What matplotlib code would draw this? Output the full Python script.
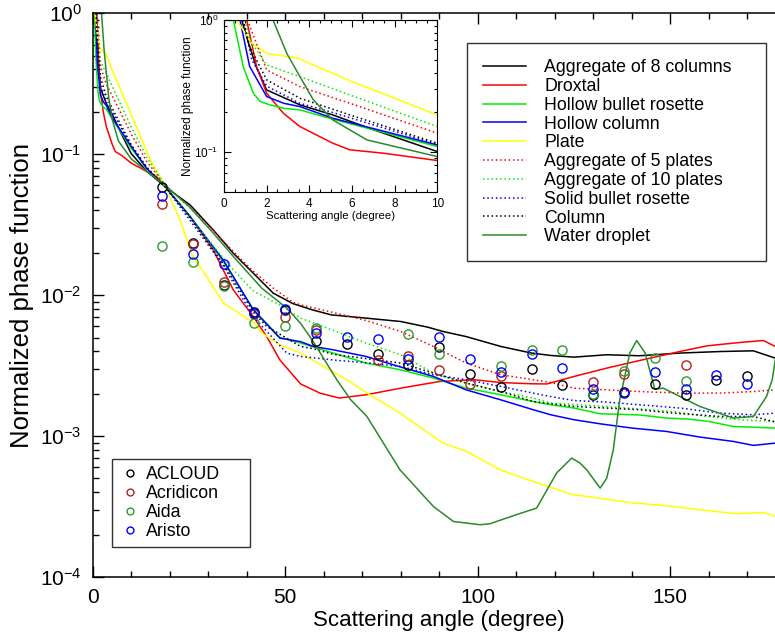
import numpy as np
import matplotlib
matplotlib.use("Agg")
import matplotlib.pyplot as plt
from matplotlib.ticker import MultipleLocator, LogLocator, NullFormatter

plt.rcParams['font.family'] = ['Liberation Sans', 'DejaVu Sans']
plt.rcParams['mathtext.fontset'] = 'custom'
plt.rcParams['mathtext.rm'] = 'Liberation Sans'

# ---------------- data (angle in degree, log10 of normalized phase function) ----------------
agg8_ang = [0.83, 1.2, 1.5, 2, 3.56, 5.1, 7, 10, 14, 18.8, 25.3, 31.3, 36.5, 41.7, 46.9, 52, 57, 62, 71, 80, 87, 91, 97, 106, 114, 119, 125, 133.5, 142, 152.5, 163, 171.6, 177.3]
agg8_log = [0, -0.2, -0.35, -0.529, -0.642, -0.718, -0.83, -0.995, -1.12, -1.23, -1.36, -1.537, -1.702, -1.844, -1.986, -2.06, -2.104, -2.14, -2.163, -2.187, -2.227, -2.258, -2.294, -2.364, -2.411, -2.428, -2.44, -2.423, -2.43, -2.411, -2.4, -2.395, -2.447]

drox_ang = [1.06, 1.53, 2, 2.78, 3.56, 5.1, 5.9, 7.5, 10, 16.6, 18.8, 25.3, 31.3, 36.5, 41.7, 45.2, 48.6, 54, 59, 64, 71, 80, 90, 99, 106, 114, 118, 125, 133.5, 142, 152.5, 159.5, 168, 174.2, 177.3]
drox_log = [0, -0.353, -0.554, -0.705, -0.806, -0.932, -0.982, -1.008, -1.063, -1.16, -1.23, -1.443, -1.679, -1.962, -2.152, -2.294, -2.459, -2.63, -2.695, -2.73, -2.707, -2.66, -2.613, -2.6, -2.62, -2.629, -2.63, -2.577, -2.518, -2.464, -2.4, -2.36, -2.336, -2.322, -2.364]

hbr_ang = [0.44, 0.9, 1.375, 1.7, 2.15, 2.8, 3.56, 5.1, 10, 14, 18.8, 25.3, 33.9, 41.7, 48.6, 54, 62.5, 71, 80, 88.5, 97, 106, 114.4, 119, 125, 131.8, 142, 149, 155, 160, 166.4, 177.3]
hbr_log = [0, -0.353, -0.554, -0.617, -0.642, -0.668, -0.68, -0.75, -0.957, -1.1, -1.23, -1.44, -1.76, -2.1, -2.3, -2.34, -2.411, -2.482, -2.53, -2.589, -2.66, -2.707, -2.755, -2.778, -2.801, -2.842, -2.85, -2.872, -2.88, -2.896, -2.932, -2.943]

hcol_ang = [0.75, 1.2, 2, 2.8, 3.56, 5.1, 10, 14, 18.8, 25.3, 33.9, 41.7, 48.6, 54, 57.3, 62.5, 71, 80, 88.5, 97, 106, 114.4, 119, 125, 131.8, 140, 149, 157.7, 166.4, 171.6, 177.3]
hcol_log = [0, -0.35, -0.579, -0.63, -0.655, -0.743, -0.945, -1.1, -1.23, -1.443, -1.75, -2.104, -2.305, -2.33, -2.364, -2.388, -2.435, -2.51, -2.577, -2.672, -2.743, -2.813, -2.849, -2.884, -2.913, -2.943, -2.967, -3.007, -3.038, -3.066, -3.05]

plate_ang = [0.6, 1.3, 2, 3.5, 4, 6, 10, 15, 18.8, 22.7, 26, 29, 34, 42, 44, 48.6, 54, 66, 72, 79.8, 91, 97.1, 105.8, 114.4, 124.8, 128.3, 140.4, 149, 157.7, 167.3, 174.2, 177.3]
plate_log = [0, -0.176, -0.252, -0.29, -0.327, -0.466, -0.718, -1.04, -1.23, -1.466, -1.726, -1.844, -2.057, -2.2, -2.27, -2.352, -2.411, -2.6, -2.707, -2.837, -3.05, -3.109, -3.239, -3.322, -3.416, -3.428, -3.475, -3.494, -3.523, -3.551, -3.542, -3.57]

agg5_ang = [1.1, 2, 3.56, 5.9, 10, 14, 18.8, 25.3, 31.3, 36.5, 41.7, 46.9, 52, 54, 62, 71, 80, 88.5, 97, 106, 114.4, 119, 125, 133.5, 142, 152.5, 163, 171.6, 177.3]
agg5_log = [0, -0.378, -0.504, -0.63, -0.856, -1.05, -1.22, -1.38, -1.54, -1.69, -1.83, -1.95, -2.05, -2.069, -2.12, -2.18, -2.258, -2.364, -2.482, -2.565, -2.6, -2.62, -2.66, -2.672, -2.684, -2.695, -2.695, -2.684, -2.672]

agg10_ang = [1.0, 1.2, 2, 3.56, 5.9, 10, 14, 18.8, 25.3, 31.3, 36.5, 41.7, 48.6, 54, 62.5, 71, 80, 88.5, 97, 106, 114.4, 119, 133.5, 150.8, 159.5, 168, 177.3]
agg10_log = [0, -0.15, -0.34, -0.428, -0.567, -0.806, -1.02, -1.22, -1.45, -1.65, -1.82, -1.97, -2.07, -2.163, -2.25, -2.34, -2.423, -2.553, -2.624, -2.684, -2.73, -2.766, -2.79, -2.826, -2.861, -2.884, -2.896]

sbr_ang = [0.9, 1.3, 2, 3.56, 5.1, 10, 14, 18.8, 25.3, 33.9, 41.7, 50.4, 54, 62.5, 71, 80, 88.5, 97, 106, 114.4, 119, 125, 133.5, 142, 152.5, 163, 171.6, 177.3]
sbr_log = [0, -0.3, -0.5, -0.63, -0.7, -0.94, -1.1, -1.23, -1.47, -1.79, -2.152, -2.411, -2.435, -2.46, -2.48, -2.506, -2.565, -2.6, -2.648, -2.695, -2.72, -2.748, -2.759, -2.778, -2.801, -2.837, -2.849, -2.837]

col_ang = [0.9, 1.2, 2, 3.56, 5.9, 10, 14, 18.8, 25.3, 33.9, 41.7, 45.2, 54, 57.3, 62.5, 71, 80, 88.5, 97, 106, 114.4, 119, 125, 142, 150.8, 163, 171.6, 177.3]
col_log = [0, -0.2, -0.453, -0.592, -0.718, -0.932, -1.09, -1.23, -1.45, -1.78, -2.12, -2.222, -2.364, -2.38, -2.42, -2.45, -2.482, -2.553, -2.624, -2.684, -2.755, -2.771, -2.79, -2.813, -2.837, -2.861, -2.861, -2.9]

drop_ang = [2.3, 2.94, 3.56, 4.19, 5.1, 6.7, 10, 14, 18.8, 25, 31, 37, 43.9, 50.4, 54, 57.3, 60, 63.4, 67, 71.2, 79.8, 88.5, 93.7, 100.6, 103.2, 110, 115.3, 120.5, 124.4, 126.5, 128.3, 131.8, 133.5, 135.2, 136.9, 139.5, 141.3, 143.5, 146, 148.2, 157.7, 166.4, 171.6, 175, 176.5, 177.3]
drop_log = [0, -0.252, -0.428, -0.605, -0.756, -0.907, -1.033, -1.12, -1.22, -1.37, -1.55, -1.74, -1.95, -2.092, -2.2, -2.33, -2.45, -2.6, -2.742, -2.86, -3.239, -3.5, -3.606, -3.629, -3.622, -3.558, -3.511, -3.262, -3.156, -3.19, -3.239, -3.369, -3.3, -3.1, -2.742, -2.411, -2.322, -2.411, -2.667, -2.66, -2.79, -2.872, -2.861, -2.72, -2.6, -2.459]

obs_ang = [18, 26, 34, 42, 50, 58, 66, 74, 82, 90, 98, 106, 114, 122, 130, 138, 146, 154, 162, 170]
acloud = [0.059, 0.0234, 0.0118, 0.00765, 0.0078, 0.00472, 0.00451, 0.00383, 0.00322, 0.00432, 0.00277, 0.00223, 0.0030, 0.00231, 0.00196, 0.00204, 0.00235, 0.00196, 0.00248, 0.00265]
acridicon = [0.0442, 0.0231, 0.01236, 0.0074, 0.00705, 0.0057, np.nan, 0.00344, 0.00367, 0.00295, 0.00235, 0.00265, np.nan, np.nan, 0.0024, 0.00275, np.nan, 0.00322, np.nan, np.nan]
aida = [0.0225, 0.0173, 0.0117, 0.00633, 0.00608, 0.00583, np.nan, np.nan, 0.00529, 0.00382, np.nan, 0.00312, 0.00409, 0.00405, 0.0020, 0.0029, 0.00357, 0.00244, np.nan, np.nan]
aristo = [0.0506, 0.0195, 0.0166, 0.00745, 0.0080, 0.00537, 0.00504, 0.00487, 0.00351, 0.00504, 0.00351, 0.00287, 0.00382, 0.00302, 0.00216, 0.00202, 0.00284, 0.00216, 0.00272, 0.00235]

habit_names = ["Aggregate of 8 columns", "Droxtal", "Hollow bullet rosette", "Hollow column", "Plate",
               "Aggregate of 5 plates", "Aggregate of 10 plates", "Solid bullet rosette", "Column", "Water droplet"]
obs_names = ["ACLOUD", "Acridicon", "Aida", "Aristo"]

# ---------------- styles ----------------
DOT = (0, (1, 1.8))
curves = [
    (agg8_ang, agg8_log, 'black', '-'),
    (drox_ang, drox_log, '#ff0000', '-'),
    (hbr_ang, hbr_log, '#00ee00', '-'),
    (hcol_ang, hcol_log, '#0000ff', '-'),
    (plate_ang, plate_log, '#ffff00', '-'),
    (agg5_ang, agg5_log, '#ff0000', DOT),
    (agg10_ang, agg10_log, '#00ee00', DOT),
    (sbr_ang, sbr_log, '#0000ff', DOT),
    (col_ang, col_log, 'black', DOT),
    (drop_ang, drop_log, '#2a8a2a', '-'),
]
obs = [(acloud, 'black'), (acridicon, '#b52020'), (aida, '#2e9a2e'), (aristo, '#0000ff')]

W, H = 775, 639
fig = plt.figure(figsize=(W / 100, H / 100), dpi=100)

x0, y_top, y_bot = 92.7, 13.3, 577.0
px_per_deg = 3.85
ax = fig.add_axes([x0 / W, 1 - y_bot / H, 180 * px_per_deg / W, (y_bot - y_top) / H])

handles = []
for (a, l, c, ls), name in zip(curves, habit_names):
    h, = ax.plot(a, 10 ** np.array(l), color=c, ls=ls, lw=1.1, label=name)
    handles.append(h)

obs_handles = []
for (vals, c), name in zip(obs, obs_names):
    h, = ax.plot(obs_ang, vals, ls='none', marker='o', ms=6.6, mfc='none', mec=c, mew=1.0, label=name)
    obs_handles.append(h)

ax.set_yscale('log')
ax.set_xlim(0, 180)
ax.set_ylim(1e-4, 1)
ax.xaxis.set_major_locator(MultipleLocator(50))
ax.xaxis.set_minor_locator(MultipleLocator(10))
ax.yaxis.set_major_locator(LogLocator(base=10, numticks=10))
ax.yaxis.set_minor_locator(LogLocator(base=10, subs=np.arange(2, 10), numticks=20))
ax.yaxis.set_minor_formatter(NullFormatter())
ax.tick_params(which='both', direction='in', top=True, right=True, width=1.0, labelsize=15, pad=8)
ax.tick_params(which='major', length=8)
ax.tick_params(which='minor', length=4.5)
for s in ax.spines.values():
    s.set_linewidth(1.1)
ax.set_xlabel('Scattering angle (degree)', fontsize=16, labelpad=2)
ax.set_ylabel('Normalized phase function', fontsize=18.5, labelpad=4)

lx0, lx1, ly0, ly1 = 466.7, 766.0, 43.3, 257.3
leg = fig.legend(handles=handles, loc='upper left',
                 bbox_to_anchor=(lx0 / W, 1 - ly1 / H, (lx1 - lx0) / W, (ly1 - ly0) / H),
                 bbox_transform=fig.transFigure, mode='expand',
                 fontsize=12.8, frameon=True, fancybox=False, edgecolor='black',
                 handlelength=2.45, handletextpad=1.0, labelspacing=0.1, borderpad=0.9,
                 borderaxespad=0)
leg.get_frame().set_linewidth(1.0)

sx0, sx1, sy0, sy1 = 112.3, 250.0, 454.0, 547.3
leg2 = fig.legend(handles=obs_handles, loc='lower left',
                  bbox_to_anchor=(sx0 / W, 1 - sy1 / H, (sx1 - sx0) / W, (sy1 - sy0) / H),
                  bbox_transform=fig.transFigure, mode='expand',
                  fontsize=12.8, frameon=True, fancybox=False, edgecolor='black',
                  handlelength=1.12, handletextpad=0.38, labelspacing=0.1, borderpad=0.42,
                  borderaxespad=0, markerscale=0.75)
leg2.get_frame().set_linewidth(1.0)

# ---------------- inset ----------------
ix0, ix1, iy0, iy1 = 224.0, 437.3, 20.0, 192.0
axi = fig.add_axes([ix0 / W, 1 - iy1 / H, (ix1 - ix0) / W, (iy1 - iy0) / H])
for (a, l, c, ls) in curves:
    axi.plot(a, 10 ** np.array(l), color=c, ls=ls, lw=1.1)
axi.set_yscale('log')
axi.set_xlim(0, 10)
axi.set_ylim(0.05, 1)
axi.xaxis.set_major_locator(MultipleLocator(2))
axi.xaxis.set_minor_locator(MultipleLocator(0.5))
axi.yaxis.set_major_locator(LogLocator(base=10, numticks=10))
axi.yaxis.set_minor_locator(LogLocator(base=10, subs=np.arange(2, 10), numticks=20))
axi.yaxis.set_minor_formatter(NullFormatter())
axi.tick_params(which='both', direction='in', top=True, right=True, width=0.8, labelsize=8.5, pad=4)
axi.tick_params(which='major', length=5)
axi.tick_params(which='minor', length=2.5)
axi.set_xlabel('Scattering angle (degree)', fontsize=8.2, labelpad=1)
axi.set_ylabel('Normalized phase function', fontsize=8.5, labelpad=0)

fig.savefig('out.png', dpi=100)
